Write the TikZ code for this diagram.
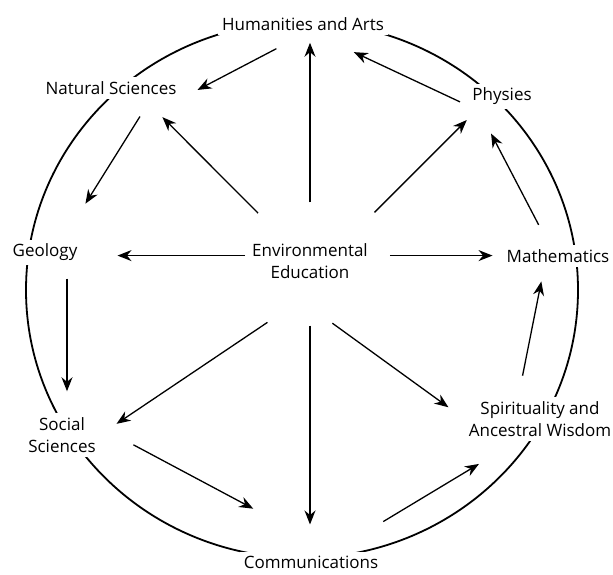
\documentclass[tikz,border=0pt]{standalone}
\usepackage{fontspec}
\setmainfont{Open Sans}
\usetikzlibrary{arrows.meta}
\begin{document}
\begin{tikzpicture}[x=1pt,y=-1pt,
    every node/.style={fill=white,inner sep=4pt,align=center,font=\fontsize{17}{22}\selectfont},
    link/.style={-{Stealth[length=14pt,width=11pt]},line width=1.3pt}]
  \useasboundingbox (0,0) rectangle (613,574);
  \draw[line width=1.8pt] (302,290) ellipse [x radius=276, y radius=268];
  \draw
    (303,24) node (hum) {Humanities and Arts}
    (111,88) node (nat) {Natural Sciences}
    (502,96) node (phy) {Physies}
    (45,252) node (geo) {Geology}
    (310,261) node (env) {Environmental\\Education}
    (558,256) node (mat) {Mathematics}
    (62,435) node (soc) {Social\\Sciences}
    (540,419) node (spi) {Spirituality and\\Ancestral Wisdom}
    (311,562) node (com) {Communications};
  \begin{scope}[link]
    % from the centre
    \draw[shorten <=37pt, shorten >=8pt] (env.north) to (env.north |- hum.south);
    \draw[shorten <=37pt, shorten >=26pt] (env.140) to (nat.-18);
    \draw[shorten <=38pt, shorten >=16pt] (env.30) to (phy.-152);
    \draw[shorten <=3pt, shorten >=36pt] (env.175) to (env.175 -| geo.east);
    \draw[shorten <=18pt, shorten >=10pt] (env.5) to (env.5 -| mat.west);
    \draw[shorten <=71pt, shorten >=20pt] (env.-53) to (soc.east);
    \draw[shorten <=69pt, shorten >=20pt] (env.-147) to (spi.west);
    \draw[shorten <=43pt, shorten >=27pt] (env.south) to (env.south |- com.north);
    % round the ring
    \draw[shorten <=30pt, shorten >=19pt] (hum.south) to (nat.south east);
    \draw[shorten <=21pt, shorten >=42pt] (nat.-15) to (geo.35);
    \draw[shorten <=14pt, shorten >=22pt] (geo.-30) to (geo.-30 |- soc.north);
    \draw[shorten <=38pt, shorten >=91pt] (soc.12) to (com.25);
    \draw[shorten <=58pt, shorten >=45pt] (com.25) to (spi.-136);
    \draw[shorten <=22pt, shorten >=15pt] (spi.135) to (mat.218);
    \draw[shorten <=23pt, shorten >=28pt] (mat.129) to (phy.-152);
    \draw[shorten <=9pt, shorten >=41pt] (phy.196) to (hum.-38);
  \end{scope}
\end{tikzpicture}
\end{document}
